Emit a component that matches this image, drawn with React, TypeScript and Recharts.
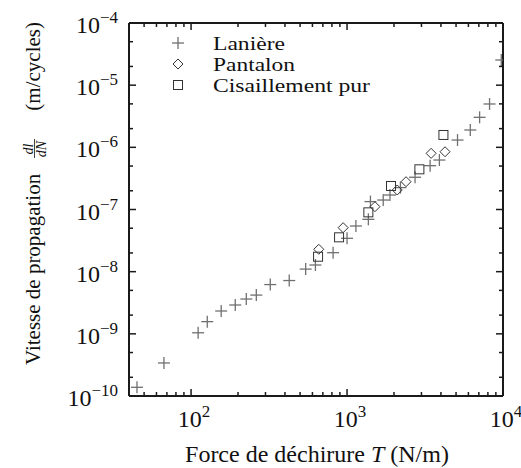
// @ts-nocheck
import React from 'react';
import { ScatterChart, Scatter, XAxis, YAxis, ReferenceLine } from 'recharts';

// Lanière
const laniereT = [45, 67, 111, 127, 156, 192, 226, 262, 322, 426, 543, 627, 814, 1000, 1140, 1370, 1413, 1706, 1885, 2200, 2730, 3410, 3910, 5110, 6170, 7080, 8200, 9750];
const laniereV = [1.38e-10, 3.4e-10, 1.04e-9, 1.57e-9, 2.33e-9, 2.91e-9, 3.63e-9, 4.2e-9, 6.2e-9, 7.2e-9, 1.1e-8, 1.28e-8, 2.02e-8, 3.44e-8, 5.43e-8, 6.95e-8, 1.34e-7, 1.42e-7, 1.71e-7, 2.25e-7, 3.3e-7, 5.07e-7, 6.25e-7, 1.31e-6, 1.9e-6, 3.04e-6, 4.98e-6, 2.54e-5];

// Pantalon
const pantalonT = [659, 944, 1510, 2098, 2390, 3460, 4250];
const pantalonV = [2.29e-8, 5.1e-8, 1.11e-7, 2.06e-7, 2.8e-7, 8.0e-7, 8.5e-7];

// Cisaillement pur
const cisailT = [652, 889, 1370, 1914, 2910, 4150];
const cisailV = [1.74e-8, 3.57e-8, 9.0e-8, 2.39e-7, 4.43e-7, 1.58e-6];

const xTicks = [50, 60, 70, 80, 90, 100, 200, 300, 400, 500, 600, 700, 800, 900, 1000, 2000, 3000, 4000, 5000, 6000, 7000, 8000, 9000, 10000];
const yTicks = [1e-10, 2e-10, 5e-10, 1e-9, 2e-9, 5e-9, 1e-8, 2e-8, 5e-8, 1e-7, 2e-7, 5e-7, 1e-6, 2e-6, 5e-6, 1e-5, 2e-5, 5e-5, 1e-4];

const toPoints = (xs, ys) => xs.map((x, i) => ({ x, y: ys[i] }));
const laniere = toPoints(laniereT, laniereV);
const pantalon = toPoints(pantalonT, pantalonV);
const cisail = toPoints(cisailT, cisailV);

const W = 521;
const H = 468;
const PLOT_TOP = 23;
const PLOT_RIGHT = 503;
const FONT = "'Liberation Serif', 'DejaVu Serif', serif";
const INK = '#1a1a1a';

const decade = (v) => {
  const l = Math.log10(v);
  return Math.abs(l - Math.round(l)) < 1e-6 ? Math.round(l) : null;
};

const XTick = ({ x, y, payload }) => {
  const e = decade(payload.value);
  const len = e !== null ? 7 : 4;
  return (
    <g>
      <line x1={x} x2={x} y1={y} y2={y - len} stroke={INK} strokeWidth={1.5} />
      <line x1={x} x2={x} y1={PLOT_TOP} y2={PLOT_TOP + len} stroke={INK} strokeWidth={1.5} />
      {e !== null && (
        <text x={x + 3} y={y + 31} textAnchor="middle" fontFamily={FONT} fontSize={24} fill="#111">
          10<tspan dy={-10} fontSize={17}>{e}</tspan>
        </text>
      )}
    </g>
  );
};

const YTick = ({ x, y, payload }) => {
  const e = decade(payload.value);
  const len = e !== null ? 7 : 4;
  return (
    <g>
      <line x1={x} x2={x + len} y1={y} y2={y} stroke={INK} strokeWidth={1.5} />
      <line x1={PLOT_RIGHT - len} x2={PLOT_RIGHT} y1={y} y2={y} stroke={INK} strokeWidth={1.5} />
      {e !== null && (
        <text x={x - 11} y={y + 10} textAnchor="end" fontFamily={FONT} fontSize={24} fill="#111">
          10<tspan dy={-10} fontSize={17}>{'\u2212' + Math.abs(e)}</tspan>
        </text>
      )}
    </g>
  );
};

const XTitle = () => (
  <text x={317} y={462} textAnchor="middle" fontFamily={FONT} fontSize={24} fill="#111">
    Force de déchirure <tspan fontStyle="italic">T</tspan> (N/m)
  </text>
);

const YTitle = () => (
  <g transform="translate(40, 365) rotate(-90)" fontFamily={FONT} fill="#111">
    <text x={0} y={0} fontSize={21}>Vitesse de propagation</text>
    <text x={216} y={-7.5} fontSize={14} fontStyle="italic" textAnchor="middle">dl</text>
    <line x1={207} x2={226} y1={-5.5} y2={-5.5} stroke="#111" strokeWidth={0.8} />
    <text x={216} y={5.5} fontSize={14} fontStyle="italic" textAnchor="middle">dN</text>
    <text x={343} y={0} fontSize={21} textAnchor="end">(m/cycles)</text>
  </g>
);

const Plus = ({ cx, cy }) => (
  <g stroke="#707070" strokeWidth={1.3}>
    <line x1={cx - 6} x2={cx + 6} y1={cy} y2={cy} />
    <line x1={cx} x2={cx} y1={cy - 6} y2={cy + 6} />
  </g>
);

const Diamond = ({ cx, cy }) => (
  <path d={`M${cx},${cy - 5}L${cx + 5},${cy}L${cx},${cy + 5}L${cx - 5},${cy}Z`} fill="none" stroke="#333" strokeWidth={1} />
);

const Square = ({ cx, cy }) => (
  <rect x={cx - 4.5} y={cy - 4.5} width={9} height={9} fill="none" stroke="#333" strokeWidth={1} />
);

const legendRows = [
  { name: 'Lanière', Mark: Plus, len: 72 },
  { name: 'Pantalon', Mark: Diamond, len: 82 },
  { name: 'Cisaillement pur', Mark: Square, len: 157 },
];

export default function App() {
  return (
    <div style={{ position: 'absolute', left: 0, top: 0, width: W, height: H, background: '#fff' }}>
      <ScatterChart width={W} height={H} margin={{ top: PLOT_TOP, right: W - PLOT_RIGHT, bottom: 0, left: 0 }}>
        <XAxis
          dataKey="x"
          type="number"
          scale="log"
          domain={[40, 10000]}
          allowDataOverflow
          ticks={xTicks}
          interval={0}
          tick={<XTick />}
          tickLine={false}
          axisLine={false}
          tickSize={0}
          tickMargin={0}
          height={72}
          label={<XTitle />}
        />
        <YAxis
          dataKey="y"
          type="number"
          scale="log"
          domain={[1e-10, 1e-4]}
          allowDataOverflow
          ticks={yTicks}
          interval={0}
          tick={<YTick />}
          tickLine={false}
          axisLine={false}
          tickSize={0}
          tickMargin={0}
          width={129}
          label={<YTitle />}
        />
        <ReferenceLine x={40} stroke={INK} strokeWidth={2} />
        <ReferenceLine x={10000} stroke={INK} strokeWidth={2} />
        <ReferenceLine y={1e-10} stroke={INK} strokeWidth={2} />
        <ReferenceLine y={1e-4} stroke={INK} strokeWidth={2} />
        <Scatter name="Lanière" data={laniere} shape={<Plus />} isAnimationActive={false} />
        <Scatter name="Pantalon" data={pantalon} shape={<Diamond />} isAnimationActive={false} />
        <Scatter name="Cisaillement pur" data={cisail} shape={<Square />} isAnimationActive={false} />
      </ScatterChart>
      <svg width={260} height={85} style={{ position: 'absolute', left: 160, top: 28 }}>
        {legendRows.map(({ name, Mark, len }, i) => (
          <g key={name}>
            <Mark cx={18} cy={15 + i * 21} />
            <text x={53} y={22 + i * 21} fontFamily={FONT} fontSize={18.5} textLength={len} lengthAdjust="spacingAndGlyphs" fill="#111">{name}</text>
          </g>
        ))}
      </svg>
    </div>
  );
}
